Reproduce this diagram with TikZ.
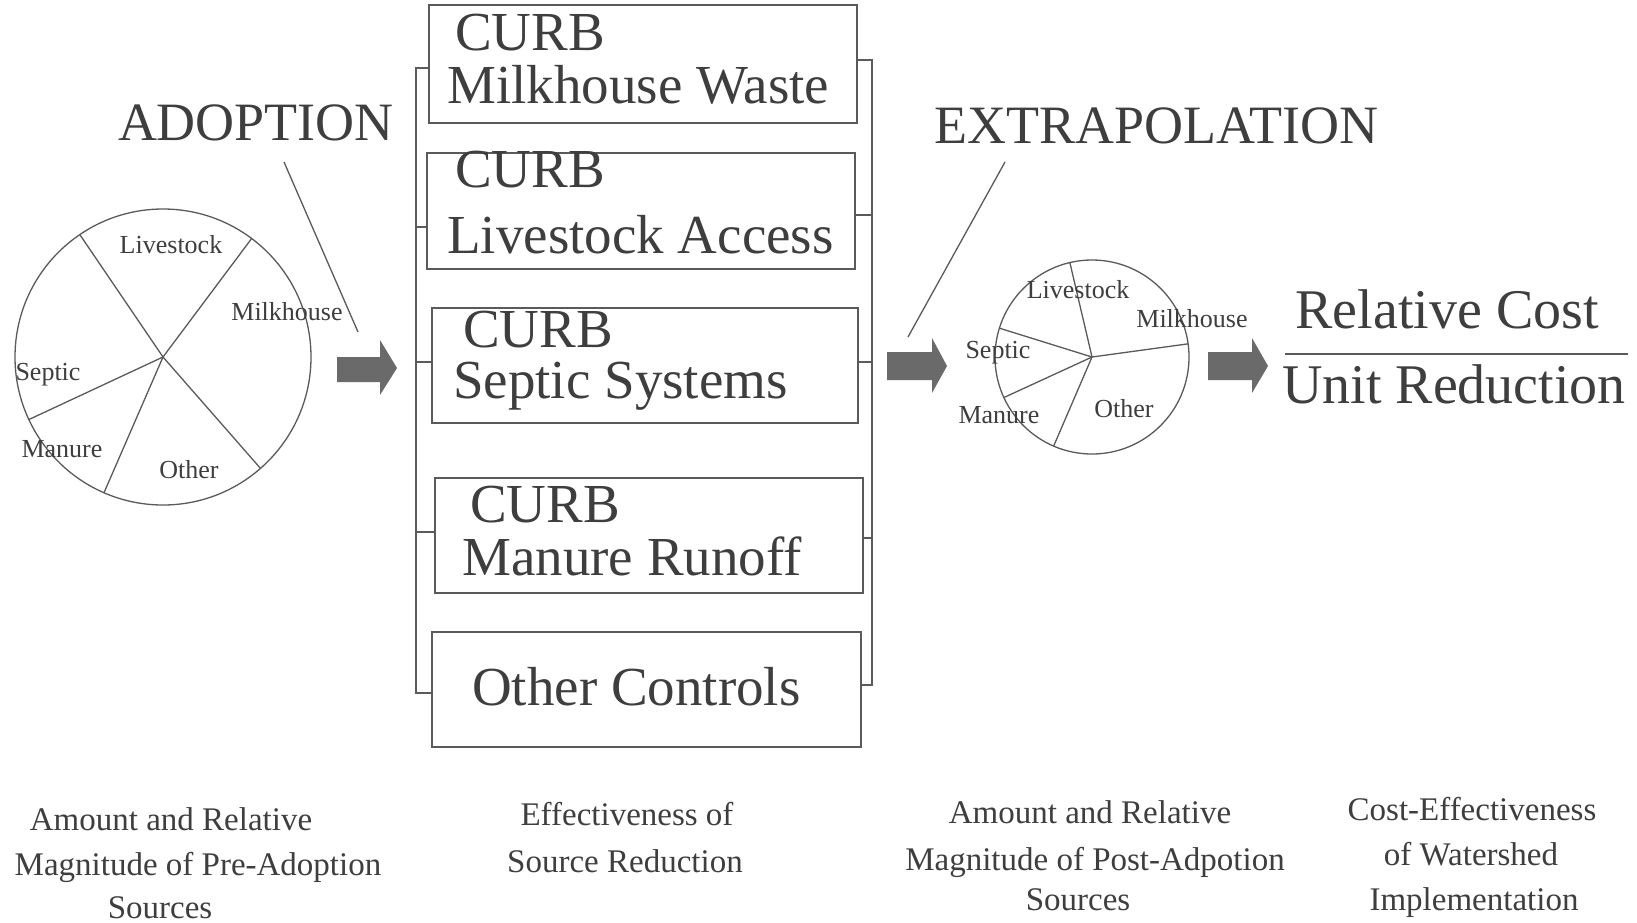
\documentclass[tikz,border=0pt]{standalone}
\usepackage{fontspec}
\setmainfont{Liberation Serif}
\definecolor{ink}{HTML}{3E3E3E}
\definecolor{linegray}{HTML}{5A5A5A}
\definecolor{arrowgray}{HTML}{6A6A6A}
\tikzset{
  boxnode/.style={draw=linegray, line width=1.6pt, minimum width=#1, inner sep=0pt},
  bigtxt/.style={text=ink, inner sep=0pt, anchor=base west, font=\fontsize{55}{60}\selectfont},
  titletxt/.style={text=ink, inner sep=0pt, anchor=base, font=\fontsize{54}{60}\selectfont},
  fractxt/.style={text=ink, inner sep=0pt, anchor=base, font=\fontsize{56}{60}\selectfont},
  pietxt/.style={text=ink, inner sep=0pt, anchor=base, font=\fontsize{26}{28}\selectfont},
  captxt/.style={text=ink, inner sep=0pt, anchor=base, font=\fontsize{33}{36}\selectfont},
  thin/.style={draw=linegray, line width=1.3pt},
  blockarrow/.style={fill=arrowgray, draw=none}
}
\begin{document}
\begin{tikzpicture}[x=1pt, y=-1pt]
\useasboundingbox (0,0) rectangle (1637,922);
\fill[white] (0,0) rectangle (1637,922);

% ---------- titles ----------
\node[titletxt] (adopt) at (256,140) {ADOPTION};
\node[titletxt] (extra) at (1156,143) {EXTRAPOLATION};
\coordinate (adoptA) at (284,162);
\coordinate (adoptB) at (358,332);
\coordinate (extraA) at (1005,162);
\coordinate (extraB) at (908,337);
\draw[thin] (adoptA) -- (adoptB);
\draw[thin] (extraA) -- (extraB);

% ---------- left pie ----------
\coordinate (lp) at (163,357);
\draw[thin] (lp) circle[radius=148pt];
\draw[thin] (lp) -- ++(-124.2:148);
\draw[thin] (lp) -- ++(-53.2:148);
\draw[thin] (lp) -- ++(155:148);
\draw[thin] (lp) -- ++(113.5:148);
\draw[thin] (lp) -- ++(48.8:148);
\node[pietxt] (lpLive) at (171,253) {Livestock};
\node[pietxt] (lpMilk) at (287,320) {Milkhouse};
\node[pietxt] (lpSept) at (48,380) {Septic};
\node[pietxt] (lpMan) at (62,457) {Manure};
\node[pietxt] (lpOth) at (189,478) {Other};

% ---------- block arrows ----------
\fill[blockarrow] (337,357) -- (380,357) -- (380,340) -- (397,368) -- (380,395) -- (380,382) -- (337,382) -- cycle;
\fill[blockarrow] (887,352) -- (932,352) -- (932,338) -- (947,366) -- (932,393) -- (932,380) -- (887,380) -- cycle;
\fill[blockarrow] (1208,352) -- (1252,352) -- (1252,338) -- (1268,366) -- (1252,393) -- (1252,380) -- (1208,380) -- cycle;

% ---------- boxes ----------
\node[boxnode=428pt, minimum height=118pt] (b1) at (643,64) {};
\node[boxnode=428pt, minimum height=116pt] (b2) at (641,211) {};
\node[boxnode=426pt, minimum height=115pt] (b3) at (645,365.5) {};
\node[boxnode=428pt, minimum height=115pt] (b4) at (649,535.5) {};
\node[boxnode=429pt, minimum height=115pt] (b5) at (646.5,689.5) {};

\node[bigtxt] (t1a) at (455,50) {CURB};
\node[bigtxt] (t1b) at (447,103) {Milkhouse Waste};
\node[bigtxt] (t2a) at (455,187) {CURB};
\node[bigtxt] (t2b) at (447,253) {Livestock Access};
\node[bigtxt] (t3a) at (463,347) {CURB};
\node[bigtxt] (t3b) at (453,398) {Septic Systems};
\node[bigtxt] (t4a) at (470,522) {CURB};
\node[bigtxt] (t4b) at (462,575) {Manure Runoff};
\node[bigtxt] (t5) at (472,705) {Other Controls};

% left bracket
\coordinate (lbT) at (416,68);
\coordinate (lbB) at (416,693);
\draw[thin] (b1.west |- lbT) -- (lbT) -- (lbB) -- (b5.west |- lbB);
\draw[thin] (416,227) -- (b2.west |- 0,227);
\draw[thin] (416,362) -- (b3.west |- 0,362);
\draw[thin] (416,532) -- (b4.west |- 0,532);
% right bracket
\coordinate (rbT) at (872,60);
\coordinate (rbB) at (872,685);
\draw[thin] (b1.east |- rbT) -- (rbT) -- (rbB) -- (b5.east |- rbB);
\draw[thin] (872,215) -- (b2.east |- 0,215);
\draw[thin] (872,362) -- (b3.east |- 0,362);
\draw[thin] (872,538) -- (b4.east |- 0,538);

% ---------- right pie ----------
\coordinate (rp) at (1092,357);
\draw[thin] (rp) circle[radius=97pt];
\draw[thin] (rp) -- ++(-103.2:97);
\draw[thin] (rp) -- ++(-7.8:97);
\draw[thin] (rp) -- ++(113.3:97);
\draw[thin] (rp) -- ++(155.3:97);
\draw[thin] (rp) -- ++(-162.7:97);
\node[pietxt] (rpLive) at (1078,298) {Livestock};
\node[pietxt] (rpMilk) at (1192,327) {Milkhouse};
\node[pietxt] (rpSept) at (998,358) {Septic};
\node[pietxt] (rpMan) at (999,423) {Manure};
\node[pietxt] (rpOth) at (1124,417) {Other};

% ---------- fraction ----------
\node[fractxt] (rc) at (1447,328) {Relative Cost};
\node[fractxt] (ur) at (1454,403) {Unit Reduction};
\coordinate (fracL) at (1285,354);
\coordinate (fracR) at (1628,354);
\draw[thin] (fracL) -- (fracR);

% ---------- captions ----------
\node[captxt] (c1a) at (171,830) {Amount and Relative};
\node[captxt] (c1b) at (198,875) {Magnitude of Pre-Adoption};
\node[captxt] (c1c) at (160,918) {Sources};
\node[captxt] (c2a) at (627,825) {Effectiveness of};
\node[captxt] (c2b) at (625,872) {Source Reduction};
\node[captxt] (c3a) at (1090,823) {Amount and Relative};
\node[captxt] (c3b) at (1095,870) {Magnitude of Post-Adpotion};
\node[captxt] (c3c) at (1078,910) {Sources};
\node[captxt] (c4a) at (1472,820) {Cost-Effectiveness};
\node[captxt] (c4b) at (1471,865) {of Watershed};
\node[captxt] (c4c) at (1474,910) {Implementation};
\end{tikzpicture}
\end{document}
